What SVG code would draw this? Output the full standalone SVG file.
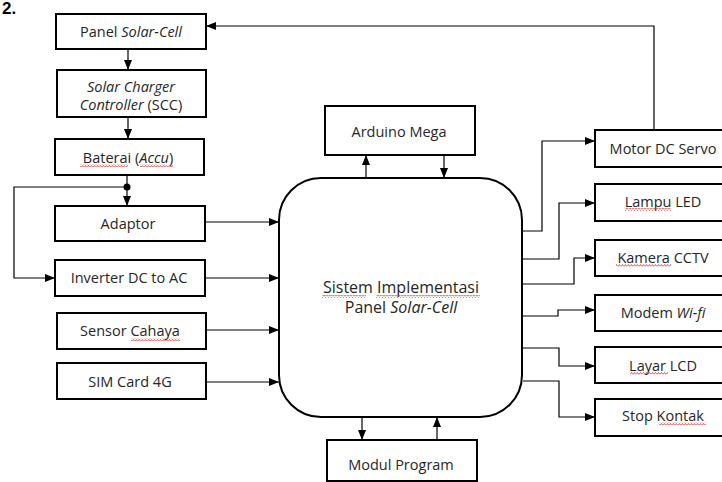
<svg xmlns="http://www.w3.org/2000/svg" width="722" height="482" viewBox="0 0 722 482">
  <defs>
    <marker id="arrow" viewBox="0 0 10 8" refX="10" refY="4" markerWidth="10" markerHeight="8" markerUnits="userSpaceOnUse" orient="auto">
      <path d="M0,0 L10,4 L0,8 Z" fill="#000"/>
    </marker>
    <pattern id="wave" width="3" height="3" patternUnits="userSpaceOnUse">
      <path d="M0,2.5 L1.5,0.5 L3,2.5" fill="none" stroke="#e03030" stroke-width="0.8"/>
    </pattern>
    <style>
      .box { fill: #fff; stroke: #000; stroke-width: 2; }
      .hub { fill: #fff; stroke: #000; stroke-width: 2; }
      .lbl { font-family: "Open Sans", "Noto Sans", sans-serif; font-size: 14.5px; fill: #262626; text-anchor: middle; }
      .big { font-size: 16px; }
      .it { font-style: italic; }
      .wire { fill: none; stroke: #000; stroke-width: 1.2; }
      .arr { marker-end: url(#arrow); }
      .squig { fill: url(#wave); }
    </style>
  </defs>

  <!-- figure number -->
  <text x="2" y="14" font-family="Liberation Sans, sans-serif" font-size="17" font-weight="bold" fill="#000">2.</text>

  <!-- connectors -->
  <g id="connectors">
    <!-- power chain -->
    <path class="wire arr" d="M128,49 V70"/>
    <path class="wire arr" d="M128,117 V139"/>
    <path class="wire arr" d="M127,175 V206"/>
    <circle cx="127" cy="187" r="3.5" fill="#000"/>
    <path class="wire arr" d="M127,187 H14 V278 H55"/>
    <!-- inputs to the main system -->
    <path class="wire arr" d="M205,222 H279"/>
    <path class="wire arr" d="M205,278 H279"/>
    <path class="wire arr" d="M206,330 H279"/>
    <path class="wire arr" d="M206,382 H279"/>
    <!-- Arduino Mega link -->
    <path class="wire arr" d="M366,178 V155"/>
    <path class="wire arr" d="M444,155 V178"/>
    <!-- Modul Program link -->
    <path class="wire arr" d="M362,417 V440"/>
    <path class="wire arr" d="M437,440 V417"/>
    <!-- outputs -->
    <path class="wire arr" d="M523,231 H542 V141 H595"/>
    <path class="wire arr" d="M523,259 H559 V203 H595"/>
    <path class="wire arr" d="M523,284 H574 V258 H595"/>
    <path class="wire arr" d="M523,316 H558 V310 H595"/>
    <path class="wire arr" d="M523,348 H559 V366 H595"/>
    <path class="wire arr" d="M523,381 H559 V417 H595"/>
    <!-- servo feedback to the panel -->
    <path class="wire arr" d="M654,130 V26 H206"/>
  </g>

  <g id="panel">
    <rect class="box" x="56" y="14" width="150" height="35"/>
    <text class="lbl" x="131" y="37">Panel <tspan class="it">Solar-Cell</tspan></text>
  </g>

  <g id="scc">
    <rect class="box" x="57" y="70" width="149" height="47"/>
    <text class="lbl" x="131" y="92"><tspan class="it">Solar Charger</tspan></text>
    <text class="lbl" x="131" y="110"><tspan class="it">Controller</tspan> (SCC)</text>
  </g>

  <g id="baterai">
    <rect class="box" x="55" y="139" width="149" height="36"/>
    <text class="lbl" x="128" y="163">Baterai (<tspan class="it">Accu</tspan>)</text>
    <rect class="squig" x="80" y="164" width="48" height="3"/>
    <rect class="squig" x="140" y="164" width="33" height="3"/>
  </g>

  <g id="adaptor">
    <rect class="box" x="55" y="206" width="150" height="35"/>
    <text class="lbl" x="128" y="229">Adaptor</text>
  </g>

  <g id="inverter">
    <rect class="box" x="55" y="260" width="150" height="36"/>
    <text class="lbl" x="129" y="283">Inverter DC to AC</text>
  </g>

  <g id="sensor">
    <rect class="box" x="57" y="313" width="149" height="36"/>
    <text class="lbl" x="130" y="336">Sensor  Cahaya</text>
    <rect class="squig" x="131" y="338" width="49" height="3"/>
  </g>

  <g id="simcard">
    <rect class="box" x="57" y="363" width="149" height="36"/>
    <text class="lbl" x="130" y="387">SIM Card 4G</text>
  </g>

  <g id="arduino">
    <rect class="box" x="325" y="106" width="150" height="49"/>
    <text class="lbl" x="399" y="137">Arduino Mega</text>
  </g>

  <g id="sistem">
    <rect class="hub" x="279" y="178" width="243" height="239" rx="42" ry="42"/>
    <text class="lbl big" x="401" y="293">Sistem Implementasi</text>
    <text class="lbl big" x="401" y="313">Panel <tspan class="it">Solar-Cell</tspan></text>
    <rect class="squig" x="322" y="295" width="44" height="3"/>
    <rect class="squig" x="376" y="295" width="104" height="3"/>
  </g>

  <g id="modul">
    <rect class="box" x="327" y="440" width="150" height="41"/>
    <text class="lbl" x="401" y="470">Modul Program</text>
  </g>

  <g id="motor">
    <rect class="box" x="595" y="130" width="130" height="37"/>
    <text class="lbl" x="663" y="154">Motor  DC Servo</text>
  </g>

  <g id="lampu">
    <rect class="box" x="595" y="184" width="130" height="37"/>
    <text class="lbl" x="663" y="207">Lampu LED</text>
    <rect class="squig" x="625" y="208" width="46" height="3"/>
  </g>

  <g id="kamera">
    <rect class="box" x="595" y="240" width="130" height="36"/>
    <text class="lbl" x="663" y="263">Kamera CCTV</text>
    <rect class="squig" x="616" y="264" width="55" height="3"/>
  </g>

  <g id="modem">
    <rect class="box" x="595" y="295" width="130" height="36"/>
    <text class="lbl" x="663" y="318">Modem <tspan class="it">Wi-fi</tspan></text>
  </g>

  <g id="layar">
    <rect class="box" x="595" y="347" width="130" height="36"/>
    <text class="lbl" x="663" y="371">Layar LCD</text>
    <rect class="squig" x="630" y="372" width="38" height="3"/>
  </g>

  <g id="stopkontak">
    <rect class="box" x="595" y="399" width="130" height="37"/>
    <text class="lbl" x="663" y="421">Stop Kontak</text>
    <rect class="squig" x="659" y="422" width="47" height="3"/>
  </g>
</svg>
